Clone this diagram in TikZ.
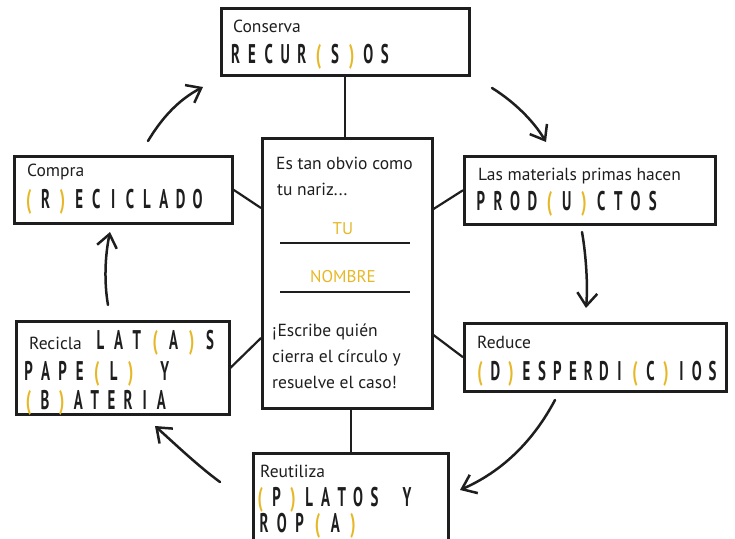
\documentclass[tikz,border=0pt]{standalone}
\usepackage{fontspec}
\usepackage{graphicx}
\setmainfont{PT Sans}
\usetikzlibrary{arrows.meta,calc}
\definecolor{ylw}{RGB}{230,184,40}
\definecolor{ink}{RGB}{30,30,30}
\newlength\cw
\newcommand\capsfont{\fontsize{27}{30}\selectfont\bfseries}
\def\capsrun#1{\capsstep#1\relax}
\def\capsstep#1{\ifx#1\relax\else\capsglyph{#1}\expandafter\capsstep\fi}
\def\capsglyph#1{%
  \ifx#1*\hspace*{\cw}%
  \else\ifx#1(\makebox[\cw]{\scalebox{0.6}[1]{\color{ylw}(}}%
  \else\ifx#1)\makebox[\cw]{\scalebox{0.6}[1]{\color{ylw})}}%
  \else\makebox[\cw]{\scalebox{0.55}[1]{#1}}%
  \fi\fi\fi}
\newcommand\capsline[2]{\setlength\cw{#1pt}{\capsfont\capsrun{#2}}}
\begin{document}
\begin{tikzpicture}[x=1pt,y=-1pt,
  box/.style={draw=ink,line width=2.5pt,rectangle,inner sep=0pt,anchor=north west},
  link/.style={draw=ink,line width=2.2pt},
  flow/.style={draw=ink,line width=2.5pt,line cap=round,-{Straight Barb[length=13pt,width=20pt,line width=2.5pt]}},
  txt/.style={anchor=base west,inner sep=0pt,text=ink,font=\fontsize{17.5}{20}\selectfont},
  capt/.style={anchor=base west,inner sep=0pt,text=ink},
  yl/.style={anchor=base,inner sep=0pt,text=ylw,font=\fontsize{17}{20}\selectfont}]
\useasboundingbox (0,0) rectangle (735,538);
% boxes
\node[box,minimum width=248pt,minimum height=67pt] (cons) at (220,7) {};
\node[box,minimum width=218pt,minimum height=67pt] (compra) at (13,155) {};
\node[box,minimum width=251pt,minimum height=68pt] (las) at (463,155) {};
\node[box,minimum width=213pt,minimum height=93pt] (recicla) at (15,320) {};
\node[box,minimum width=262pt,minimum height=68pt] (reduce) at (463,322) {};
\node[box,minimum width=195pt,minimum height=93pt] (reut) at (252,452) {};
\node[box,minimum width=170pt,minimum height=270pt] (center) at (261,137) {};
% connectors to center
\draw[link] (cons.south) -- (cons.south |- center.north);
\draw[link] (reut.north) -- (reut.north |- center.south);
\draw[link] (compra.east) -- ($(center.north west)+(0,71)$);
\draw[link] (recicla.east) -- ($(center.north west)+(0,201)$);
\draw[link] (las.west) -- ($(center.north east)+(0,72)$);
\draw[link] (reduce.west) -- ($(center.north east)+(0,198)$);
% cycle arrows
\coordinate (a1s) at (148,141); \coordinate (a1e) at (203,87);
\coordinate (a2s) at (492,88);  \coordinate (a2e) at (546,142);
\coordinate (a3s) at (582,232); \coordinate (a3e) at (586,308);
\coordinate (a4s) at (555,400); \coordinate (a4e) at (460,490);
\coordinate (a5s) at (220,482); \coordinate (a5e) at (155,426);
\coordinate (a6s) at (108,305); \coordinate (a6e) at (110,232);
\draw[flow] (a1s) .. controls (163,116) and (180,99) .. (a1e);
\draw[flow] (a2s) .. controls (513,101) and (533,120) .. (a2e);
\draw[flow] (a3s) .. controls (586,255) and (588,285) .. (a3e);
\draw[flow] (a4s) .. controls (538,432) and (510,468) .. (a4e);
\draw[flow] (a5s) .. controls (198,466) and (174,443) .. (a5e);
\draw[flow] (a6s) .. controls (104,282) and (105,256) .. (a6e);
% texts
\node[txt] (t1) at (233,32) {Conserva};
\node[capt] (c1) at (227,63) {\capsline{16.6}{RECUR(S)OS}};
\node[txt] (t2) at (27,176) {Compra};
\node[capt] (c2) at (20,208) {\capsline{16.9}{(R)ECICLADO}};
\node[txt] (t3) at (478,180) {Las materials primas hacen};
\node[capt] (c3) at (472,210) {\capsline{17.2}{PROD(U)CTOS}};
\node[txt] (t4) at (29,349) {Recicla};
\node[capt] (c4a) at (91,349) {\capsline{18.3}{LAT(A)S}};
\node[capt] (c4b) at (20,380) {\capsline{17}{PAPE(L)*Y}};
\node[capt] (c4c) at (20,409) {\capsline{16.6}{(B)ATERIA}};
\node[txt] (t5) at (477,348) {Reduce};
\node[capt] (c5) at (472,380) {\capsline{15.5}{(D)ESPERDI(C)IOS}};
\node[txt] (t6) at (260,477) {Reutiliza};
\node[capt] (c6a) at (252,506) {\capsline{16.3}{(P)LATOS*Y}};
\node[capt] (c6b) at (255,532) {\capsline{17.8}{ROP(A)}};
% center
\node[txt] (m1) at (276,169) {Es tan obvio como};
\node[txt] (m2) at (277,195) {tu nariz...};
\node[yl] (tu) at (343,234) {TU};
\node[yl] (nom) at (343,282) {NOMBRE};
\draw[ink,line width=1.8pt] (280,243) -- (410,243);
\draw[ink,line width=1.8pt] (280,292) -- (410,292);
\node[txt] (m3) at (272,336) {¡Escribe quién};
\node[txt] (m4) at (272,362) {cierra el círculo y};
\node[txt] (m5) at (272,388) {resuelve el caso!};
\end{tikzpicture}
\end{document}
